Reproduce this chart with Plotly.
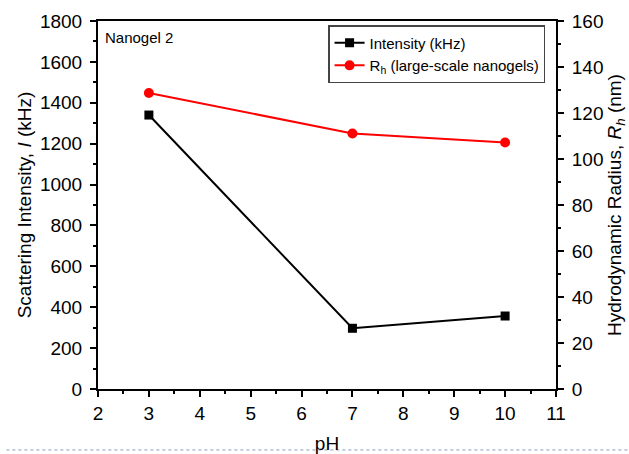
import plotly.graph_objects as go

# pH values measured
ph = [3, 7, 10]
# scattering intensity (kHz)
intensity = [1340, 297, 357]
# hydrodynamic radius of large-scale nanogels (nm)
rh = [128.7, 111.1, 107.2]

font = "Liberation Sans, Arial, sans-serif"

fig = go.Figure()
fig.add_trace(go.Scatter(
    x=ph, y=intensity, mode="lines+markers", name="Intensity (kHz)",
    line=dict(color="black", width=2),
    marker=dict(symbol="square", size=9, color="black"),
))
fig.add_trace(go.Scatter(
    x=ph, y=rh, mode="lines+markers", name="R<sub>h</sub> (large-scale nanogels)",
    line=dict(color="#ff0000", width=2),
    marker=dict(symbol="circle", size=10, color="#ff0000"),
    yaxis="y2",
))

axis_common = dict(
    showline=True, linecolor="black", linewidth=2,
    ticks="outside", ticklen=6, tickwidth=1.5, tickcolor="black",
    showgrid=False, zeroline=False, automargin=False,
    tickfont=dict(family=font, size=19, color="black"),
)

fig.update_layout(
    width=629, height=454,
    margin=dict(l=98, r=73, t=21, b=65),
    paper_bgcolor="white", plot_bgcolor="white",
    font=dict(family=font, color="black"),
    showlegend=True,
    legend=dict(
        x=0.503, y=0.988, xanchor="left", yanchor="top",
        bgcolor="white", bordercolor="#444", borderwidth=1.2,
        font=dict(family=font, size=15, color="black"),
        tracegroupgap=0, itemwidth=30,
    ),
    xaxis=dict(
        range=[2, 11], dtick=1, mirror=True,
        minor=dict(dtick=0.5, ticks="outside", ticklen=3, tickcolor="black"),
        title=dict(text="pH", font=dict(family=font, size=19), standoff=19),
        **axis_common,
    ),
    yaxis=dict(
        range=[0, 1800], dtick=200,
        minor=dict(dtick=100, ticks="outside", ticklen=3, tickcolor="black"),
        title=dict(text="Scattering Intensity, <i>I</i> (kHz)",
                   font=dict(family=font, size=19), standoff=3),
        ticklabelstandoff=4,
        **axis_common,
    ),
    yaxis2=dict(
        range=[0, 160], dtick=20, overlaying="y", side="right",
        minor=dict(dtick=10, ticks="outside", ticklen=3, tickcolor="black"),
        title=dict(text="Hydrodynamic Radius, <i>R<sub>h</sub></i> (nm)",
                   font=dict(family=font, size=19), standoff=5),
        ticklabelstandoff=4,
        **axis_common,
    ),
    annotations=[dict(
        text="Nanogel 2", x=0.012, y=0.985, xref="paper", yref="paper",
        xanchor="left", yanchor="top", showarrow=False,
        font=dict(family=font, size=15, color="black"),
    )],
    shapes=[dict(
        type="line", xref="paper", yref="paper", x0=-0.2, x1=1.2,
        y0=-0.1656, y1=-0.1656,
        line=dict(color="#8a9bbd", width=1, dash="dot"),
    )],
)

fig.write_html("out.html")
